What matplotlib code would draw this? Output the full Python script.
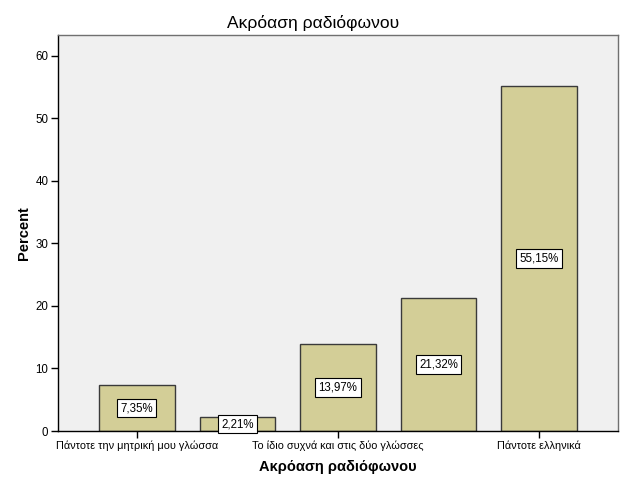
import matplotlib
matplotlib.use("Agg")
import matplotlib.pyplot as plt

plt.rcParams['font.family'] = ['Liberation Sans', 'DejaVu Sans']

categories = ["Πάντοτε την μητρική μου γλώσσα", "", "Το ίδιο συχνά και στις δύο γλώσσες", "", "Πάντοτε ελληνικά"]
values = [7.35, 2.21, 13.97, 21.32, 55.15]
labels = ["7,35%", "2,21%", "13,97%", "21,32%", "55,15%"]
yticks = [0, 10, 20, 30, 40, 50, 60]

fig = plt.figure(figsize=(6.26, 5.01), dpi=100)
ax = fig.add_axes([58/626, 1-431/501, 560/626, (431-35)/501])
ax.set_facecolor('#F0F0F0')
x = list(range(len(values)))
ax.bar(x, values, width=0.75, color='#D3CE97', edgecolor='#3a3a3a', linewidth=1.0, zorder=2)
for xi, v, lab in zip(x, values, labels):
    ax.text(xi, v/2, lab, ha='center', va='center', fontsize=8.3, zorder=3,
            bbox=dict(boxstyle='square,pad=0.28', facecolor='white', edgecolor='black', linewidth=0.8))
ax.set_xlim(-0.785, 4.785)
ax.set_ylim(0, 63.3)
ax.set_yticks(yticks)
ax.set_yticklabels([str(t) for t in yticks], fontsize=8.3)
tick_pos = [i for i, c in enumerate(categories) if c]
ax.set_xticks(tick_pos)
ax.set_xticklabels([categories[i] for i in tick_pos], fontsize=7.8)
ax.tick_params(axis='both', length=5, width=1, color='black', pad=2)
for s in ['left', 'bottom']:
    ax.spines[s].set_color('black')
    ax.spines[s].set_linewidth(1.0)
for s in ['top', 'right']:
    ax.spines[s].set_color('#707070')
    ax.spines[s].set_linewidth(1.0)
ax.set_xlabel("Ακρόαση ραδιόφωνου", fontsize=10.5, fontweight='bold', labelpad=6)
ax.set_ylabel("Percent", fontsize=10.5, fontweight='bold', labelpad=3)
fig.text(0.5, 1-23/501, "Ακρόαση ραδιόφωνου", fontsize=12.5, ha='center', va='center')
fig.savefig("out.png", dpi=100, facecolor='white')
